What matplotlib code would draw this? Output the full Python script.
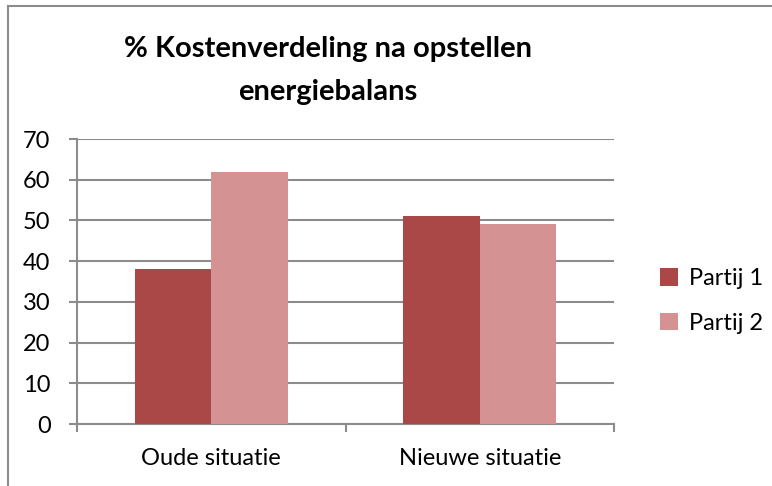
import matplotlib.pyplot as plt
from matplotlib.lines import Line2D
import numpy as np

categories = ['Oude situatie', 'Nieuwe situatie']
series_names = ['Partij 1', 'Partij 2']
partij1 = [38, 51]
partij2 = [62, 49]
yticks = [0, 10, 20, 30, 40, 50, 60, 70]

plt.rcParams['font.family'] = ['Lato', 'DejaVu Sans']

fig = plt.figure(figsize=(7.72, 4.86), dpi=100)
ax = fig.add_axes([77 / 772, 1 - 424 / 486, (614 - 77) / 772, (424 - 139) / 486])

x = np.arange(len(categories))
w = 1 / 3.5
ax.bar(x - w / 2, partij1, w, color='#A94846', label=series_names[0], zorder=3)
ax.bar(x + w / 2, partij2, w, color='#D49392', label=series_names[1], zorder=3)

grid_col = '#8C8C8C'
ax.set_ylim(0, 70)
ax.set_xlim(-0.5, 1.5)
ax.set_yticks(yticks)
ax.yaxis.grid(True, color=grid_col, linewidth=1.5, zorder=0)
ax.set_axisbelow(True)

# category ticks sit on the boundaries, labels in the middle
ax.set_xticks([-0.5, 0.5, 1.5])
ax.set_xticklabels([])
ax.set_xticks(x, minor=True)
ax.set_xticklabels(categories, minor=True)
ax.tick_params(axis='x', which='major', direction='out', length=6, width=1.5, color=grid_col)
ax.tick_params(axis='x', which='minor', length=0, pad=17, labelsize=17)
ax.tick_params(axis='y', direction='out', length=6, width=1.5, color=grid_col, pad=13, labelsize=17)

for s in ['top', 'right']:
    ax.spines[s].set_visible(False)
for s in ['left', 'bottom']:
    ax.spines[s].set_color(grid_col)
    ax.spines[s].set_linewidth(1.5)

fig.text(328 / 772, 1 - 49 / 486, '% Kostenverdeling na opstellen', ha='center', va='center',
         fontsize=21, fontweight='bold')
fig.text(328 / 772, 1 - 92 / 486, 'energiebalans', ha='center', va='center',
         fontsize=21, fontweight='bold')

fig.legend(loc='center left', bbox_to_anchor=(639 / 772, 1 - 301 / 486), frameon=False,
           fontsize=17, handlelength=0.75, handleheight=0.75, handletextpad=0.45, labelspacing=1.0)

# chart border (top and left edges visible)
fig.add_artist(Line2D([8 / 772, 8 / 772], [0, 1 - 6 / 486], color='#8C8C8C', linewidth=1.5))
fig.add_artist(Line2D([8 / 772, 1], [1 - 6 / 486, 1 - 6 / 486], color='#8C8C8C', linewidth=1.5))

fig.savefig('out.png', dpi=100)
